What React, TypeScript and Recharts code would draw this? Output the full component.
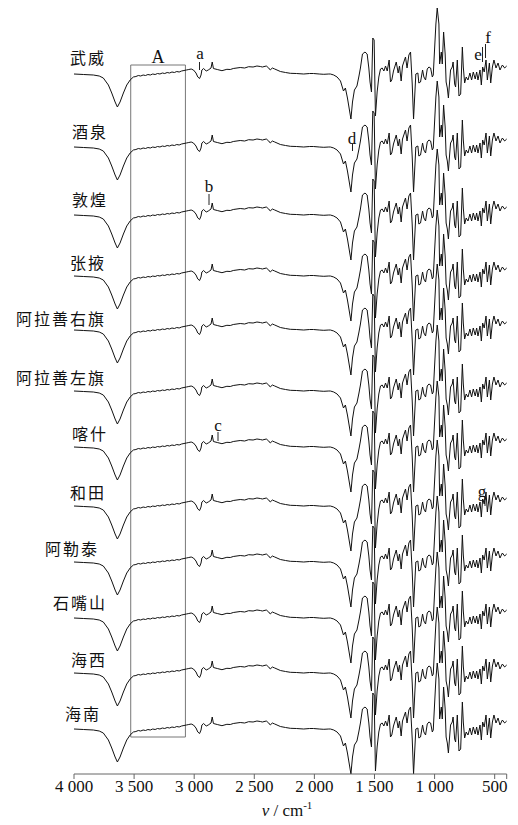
import { LineChart, Line, XAxis, YAxis, ReferenceArea, Customized } from 'recharts';

// Sampling regions, top to bottom
const samples = ['武威', '酒泉', '敦煌', '张掖', '阿拉善右旗', '阿拉善左旗', '喀什', '和田', '阿勒泰', '石嘴山', '海西', '海南'];

// Vertical stacking offset of each spectrum (a.u.)
const offsets = [700, 627, 559, 498, 444, 383, 327, 268, 212, 156, 101, 45];

// Wavenumber grid (cm-1) and the common relative transmittance profile (a.u.)
const wavenumber = [
  4000, 3920, 3839, 3790, 3756, 3714, 3686, 3658, 3639, 3617, 3589, 3561, 3533, 3506,
  3485, 3465, 3445, 3425, 3405, 3385, 3365, 3345, 3325, 3305, 3285, 3265, 3245, 3225,
  3205, 3185, 3165, 3145, 3125, 3105, 3085, 3065, 3045, 3025, 3006, 2985, 2970, 2955,
  2943, 2936, 2922, 2900, 2883, 2860, 2850, 2840, 2808, 2769, 2728, 2700, 2675, 2617,
  2580, 2547, 2510, 2478, 2450, 2433, 2400, 2380, 2367, 2350, 2330, 2283, 2240, 2200,
  2150, 2089, 2040, 2008, 1960, 1922, 1880, 1867, 1839, 1811, 1783, 1758, 1742, 1725,
  1696, 1683, 1667, 1646, 1629, 1617, 1600, 1579, 1561, 1547, 1537, 1525, 1514, 1503,
  1492, 1478, 1464, 1450, 1436, 1422, 1408, 1394, 1378, 1367, 1356, 1342, 1319, 1303,
  1292, 1278, 1267, 1242, 1229, 1214, 1200, 1186, 1175, 1156, 1139, 1131, 1117, 1100,
  1089, 1075, 1061, 1047, 1033, 1019, 1011, 1000, 989, 978, 964, 958, 944, 936,
  925, 912, 904, 894, 885, 875, 867, 853, 846, 833, 825, 811, 797, 783,
  769, 761, 750, 737, 722, 706, 692, 678, 662, 650, 639, 622, 611, 600,
  587, 572, 561, 544, 533, 519, 506, 489, 472, 456, 436, 417, 400,
];
const transmittance = [
  0, -0.5, -1, -2, -4, -11, -19, -28, -33, -28, -19, -11, -6, -3,
  -2.5, -1.5, -2, -1, -1.5, -0.5, -1, 0, -0.5, 0.5, 0, 1, 0.5, 1.5,
  1, 2, 1.5, 2.5, 2, 3, 3.5, 4, 4.5, 5, 4, 1, -3, -4.5,
  -1, 4, 5.5, 3, 4, 6, 12, 5.5, 4.5, 3.3, 4.7, 4.5, 5.5, 6.5,
  6, 7.3, 7, 8, 7.5, 7, 8, 6, 4, 6, 5, 2.5, 1.5, 0.7,
  0.5, 0, 0.5, 0.5, 0, -0.3, 0, 0, -1, -3, -7, -17, -14, -24,
  -45, -28, -16, -12, -2, 6, 20, 22, 20, 6, -8, -18, 36, 34,
  -42, -18, -3, 5, 6, 3, 8, 3, 14, -8, -6, 3, 12, 1,
  8, -7, 8, 17, 6, 19, 22, -10, -45, 0, 1, -9, -8, 4,
  -3, -6, 5, 7, 6, -3, -1, 25, 50, 66, 50, 10, 22, 10,
  42, 20, -8, -14, -24, -8, 4, 7, 12, -10, -13, 14, -22, -20,
  27, 7, -9, -3, -6, 1, -6, 2, -5, 2, -6, 4, -11, 7,
  2, 14, -6, 11, -9, 7, 14, 6, 11, 4, 9, 6, 8,
];

const xTicks = [4000, 3500, 3000, 2500, 2000, 1500, 1000, 500, 400];

const rows = wavenumber.map((w, i) => {
  const row: Record<string, number> = { w };
  offsets.forEach((off, k) => {
    row[`s${k}`] = off + transmittance[i];
  });
  return row;
});

const PLOT_BOTTOM = 774;
const labelX = [88, 90, 90, 88, 61, 61, 90, 88, 72, 80, 89, 83];
const labelRise = [17, 16, 16, 14, 12, 14, 14, 14, 14, 16, 14, 16];

const bandMarks = [
  { t: 'a', x: 200, y: 53, lx: 199.5, y1: 62, y2: 70 },
  { t: 'b', x: 209, y: 186, lx: 209, y1: 194, y2: 205 },
  { t: 'c', x: 218, y: 425, lx: 218, y1: 432, y2: 441 },
  { t: 'd', x: 352, y: 138, lx: 352.5, y1: 144, y2: 151 },
  { t: 'e', x: 478, y: 54, lx: 482.5, y1: 47, y2: 62 },
  { t: 'f', x: 488, y: 37, lx: 485.5, y1: 44, y2: 58 },
  { t: 'g', x: 482, y: 491, lx: 485, y1: 497, y2: 506 },
];

const fmtTick = (v: number) => {
  if (v === 400) return '';
  if (v >= 1000) return `${Math.floor(v / 1000)} ${String(v % 1000).padStart(3, '0')}`;
  return String(v);
};

function Annotations() {
  return (
    <g>
      {samples.map((name, k) => (
        <text
          key={name}
          x={labelX[k]}
          y={PLOT_BOTTOM - offsets[k] - labelRise[k]}
          textAnchor="middle"
          dominantBaseline="central"
          fontFamily="'Noto Sans CJK SC', sans-serif"
          fontSize={16}
          letterSpacing={2}
          fill="#111"
        >
          {name}
        </text>
      ))}
      {bandMarks.map((m) => (
        <g key={m.t}>
          <line x1={m.lx} x2={m.lx} y1={m.y1} y2={m.y2} stroke="#222" strokeWidth={1} />
          <text
            x={m.x}
            y={m.y}
            textAnchor="middle"
            dominantBaseline="central"
            fontFamily="'Liberation Serif', serif"
            fontSize={17}
            fill="#111"
          >
            {m.t}
          </text>
        </g>
      ))}
      <text x={287} y={816} textAnchor="middle" fontFamily="'Liberation Serif', serif" fontSize={17} fill="#111">
        <tspan fontStyle="italic">v</tspan>
        <tspan> / cm</tspan>
        <tspan fontSize={11} dy={-7}>-1</tspan>
      </text>
    </g>
  );
}

export default function App() {
  return (
    <div style={{ position: 'absolute', left: 0, top: 0, width: 518, height: 825, background: '#fff' }}>
      <LineChart width={518} height={825} data={rows} margin={{ top: 0, right: 11.3, bottom: 0, left: 74 }}>
        <XAxis
          type="number"
          dataKey="w"
          domain={[400, 4000]}
          reversed
          ticks={xTicks}
          tickFormatter={fmtTick}
          height={51}
          tickSize={5}
          tickMargin={1}
          interval={0}
          stroke="#666"
          tick={{ fontFamily: "'Liberation Serif', serif", fontSize: 17, fill: '#111' }}
        />
        <YAxis hide type="number" domain={[0, PLOT_BOTTOM]} allowDataOverflow />
        <ReferenceArea
          x1={3528}
          x2={3073}
          y1={37}
          y2={709}
          fill="none"
          fillOpacity={0}
          stroke="#777"
          strokeWidth={1}
          ifOverflow="visible"
          label={{ value: 'A', position: 'top', offset: 2, fontFamily: "'Liberation Serif', serif", fontSize: 18, fill: '#111' }}
        />
        {samples.map((name, k) => (
          <Line
            key={name}
            dataKey={`s${k}`}
            name={name}
            type="linear"
            stroke="#111"
            strokeWidth={1}
            dot={false}
            isAnimationActive={false}
          />
        ))}
        <Customized component={Annotations} />
      </LineChart>
    </div>
  );
}
